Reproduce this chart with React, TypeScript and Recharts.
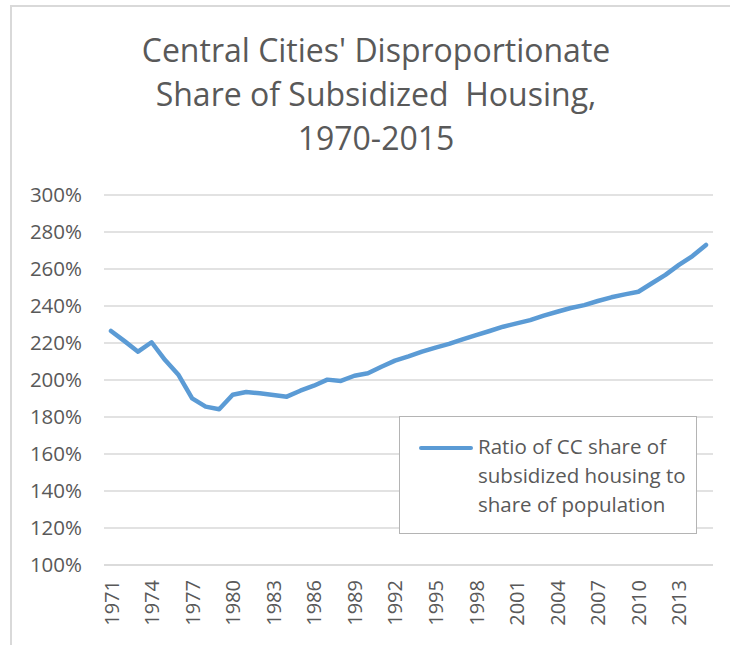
import React from "react";
import { LineChart, Line, XAxis, YAxis, CartesianGrid, Legend } from "recharts";

const years: number[] = [
  1971, 1972, 1973, 1974, 1975, 1976, 1977, 1978, 1979, 1980,
  1981, 1982, 1983, 1984, 1985, 1986, 1987, 1988, 1989, 1990,
  1991, 1992, 1993, 1994, 1995, 1996, 1997, 1998, 1999, 2000,
  2001, 2002, 2003, 2004, 2005, 2006, 2007, 2008, 2009, 2010,
  2011, 2012, 2013, 2014, 2015,
];

const ratio: number[] = [
  226.5, 221, 215.3, 220.4, 210.8, 202.7, 190.1, 185.6, 184.2, 192,
  193.5, 192.8, 191.9, 191, 194.2, 196.9, 200.2, 199.5, 202.3, 203.6,
  207.2, 210.5, 212.8, 215.3, 217.5, 219.5, 222, 224.3, 226.5, 228.8,
  230.6, 232.4, 234.8, 236.9, 238.9, 240.5, 242.7, 244.7, 246.3, 247.7,
  252.3, 256.8, 262.2, 267, 273,
];

const yTicks: number[] = [100, 120, 140, 160, 180, 200, 220, 240, 260, 280, 300];

const titleLines: string[] = [
  "Central Cities' Disproportionate",
  "Share of Subsidized  Housing,",
  "1970-2015",
];

const legendLines: string[] = [
  "Ratio of CC share of",
  "subsidized housing to",
  "share of population",
];

const data = years.map((y, i) => ({ year: String(y), ratio: ratio[i] }));

const FONT = "'Open Sans', sans-serif";
const TEXT = "#595959";
const BLUE = "#5b9bd5";

const XTick = (props: any) => {
  const { x, y, payload } = props;
  return (
    <text
      x={x}
      y={y}
      transform={`rotate(-90 ${x} ${y})`}
      textAnchor="end"
      dominantBaseline="central"
      fill={TEXT}
      fontSize={20}
      fontFamily={FONT}
    >
      {payload.value}
    </text>
  );
};

const LegendBox = () => (
  <div
    style={{
      width: 298,
      height: 118,
      boxSizing: "border-box",
      border: "1px solid #b4b4b4",
      background: "#fff",
      position: "relative",
      fontFamily: FONT,
      color: TEXT,
      fontSize: 20.5,
      textAlign: "left",
    }}
  >
    <div
      style={{
        position: "absolute",
        left: 19,
        top: 29,
        width: 54,
        height: 4,
        borderRadius: 2,
        background: BLUE,
      }}
    />
    <div style={{ position: "absolute", left: 78, top: 15, lineHeight: "29px", whiteSpace: "nowrap" }}>
      {legendLines.map((l, i) => (
        <div key={i}>{l}</div>
      ))}
    </div>
  </div>
);

export default function App() {
  return (
    <div style={{ position: "absolute", left: 0, top: 0, width: 730, height: 645, background: "#fff", overflow: "hidden" }}>
      <div
        style={{
          position: "absolute",
          left: 10,
          top: 5,
          width: 730,
          height: 650,
          borderTop: "2px solid #d9d9d9",
          borderLeft: "2px solid #d9d9d9",
          boxSizing: "border-box",
        }}
      />
      <div
        style={{
          position: "absolute",
          left: 10,
          top: 28,
          width: 732,
          textAlign: "center",
          fontFamily: FONT,
          fontSize: 32,
          lineHeight: "44px",
          color: TEXT,
          whiteSpace: "pre",
        }}
      >
        {titleLines.map((l, i) => (
          <div key={i}>{l}</div>
        ))}
      </div>
      <div style={{ position: "absolute", left: 0, top: 0 }}>
        <LineChart width={730} height={645} data={data} margin={{ top: 195, right: 17, bottom: 0, left: 44 }}>
          <CartesianGrid vertical={false} stroke="#d9d9d9" strokeWidth={1.5} />
          <XAxis
            dataKey="year"
            interval={2}
            height={80}
            padding={{ left: 7, right: 7 }}
            tickLine={false}
            tickSize={0}
            tickMargin={15}
            axisLine={{ stroke: "#d9d9d9", strokeWidth: 1.5 }}
            tick={<XTick />}
          />
          <YAxis
            domain={[100, 300]}
            ticks={yTicks}
            interval={0}
            width={60}
            axisLine={false}
            tickLine={false}
            tickSize={0}
            tickMargin={22}
            tickFormatter={(v: number) => `${v}%`}
            tick={{ fill: TEXT, fontSize: 20.5, fontFamily: FONT }}
          />
          <Legend
            layout="horizontal"
            verticalAlign="middle"
            align="center"
            content={<LegendBox />}
            wrapperStyle={{ position: "absolute", left: 399, top: 416, width: 298, height: 118 }}
          />
          <Line
            type="linear"
            dataKey="ratio"
            stroke={BLUE}
            strokeWidth={4.5}
            dot={false}
            strokeLinecap="round"
            strokeLinejoin="round"
            isAnimationActive={false}
          />
        </LineChart>
      </div>
    </div>
  );
}
